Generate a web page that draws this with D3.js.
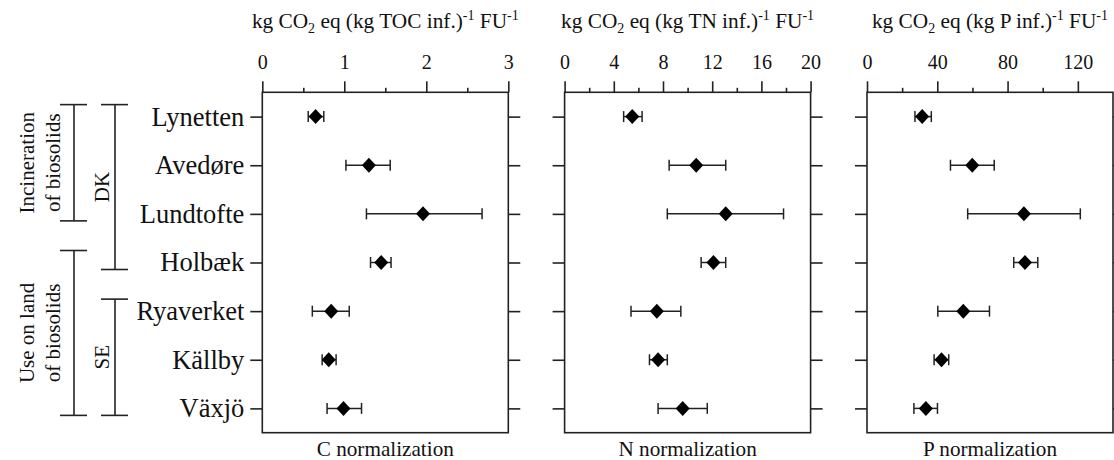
<!DOCTYPE html>
<html lang="en">
<head>
<meta charset="UTF-8">
<title>CO2 eq normalization</title>
<script src="https://d3js.org/d3.v7.min.js"></script>
<style>
  body { margin: 0; background: #fff; }
  svg text { font-family: "Times New Roman", "Liberation Serif", "DejaVu Serif", serif; fill: #111; }
</style>
</head>
<body>
<script>
// plants, top to bottom
var plants = ["Lynetten", "Avedøre", "Lundtofte", "Holbæk", "Ryaverket", "Källby", "Växjö"];

// C normalization: kg CO2 eq (kg TOC inf.)^-1 FU^-1
var cMean = [0.65, 1.30, 1.96, 1.45, 0.84, 0.81, 0.99];
var cLow  = [0.56, 1.02, 1.27, 1.32, 0.61, 0.73, 0.79];
var cHigh = [0.75, 1.56, 2.68, 1.57, 1.06, 0.90, 1.21];

// N normalization: kg CO2 eq (kg TN inf.)^-1 FU^-1
var nMean = [5.5, 10.7, 13.1, 12.1, 7.5, 7.6, 9.6];
var nLow  = [4.8, 8.5, 8.35, 11.1, 5.4, 6.9, 7.6];
var nHigh = [6.3, 13.1, 17.8, 13.1, 9.45, 8.35, 11.6];

// P normalization: kg CO2 eq (kg P inf.)^-1 FU^-1
var pMean = [31.4, 59.9, 89.3, 89.9, 54.8, 42.4, 33.5];
var pLow  = [27.3, 47.5, 57.3, 83.5, 40.3, 38.2, 26.7];
var pHigh = [36.6, 72.4, 121.4, 97.2, 69.7, 46.5, 40.1];

var cTicks = [0, 1, 2, 3], cMinor = [0.5, 1.5, 2.5];
var nTicks = [0, 4, 8, 12, 16, 20], nMinor = [2, 6, 10, 14, 18];
var pTicks = [0, 40, 80, 120], pMinor = [20, 60, 100];

var groups = [
    { lines: ["Incineration", "of biosolids"], from: "Lynetten", to: "Lundtofte", level: 0 },
    { lines: ["Use on land", "of biosolids"], from: "Holbæk", to: "Växjö", level: 0 },
    { lines: ["DK"], from: "Lynetten", to: "Holbæk", level: 1 },
    { lines: ["SE"], from: "Ryaverket", to: "Växjö", level: 1 }
];

var width = 1114, height = 460;
var plotTop = 92.3, plotH = 340.4, plotW = 246;
var panelX = [262.3, 564.6, 867];
var ink = "#222";
var serif = "'Times New Roman', 'Liberation Serif', serif";

var panels = [
    { unit: "TOC", label: "C normalization", max: 3, ticks: cTicks, minor: cMinor, mean: cMean, low: cLow, high: cHigh },
    { unit: "TN", label: "N normalization", max: 20, ticks: nTicks, minor: nMinor, mean: nMean, low: nLow, high: nHigh },
    { unit: "P", label: "P normalization", max: 140, ticks: pTicks, minor: pMinor, mean: pMean, low: pLow, high: pHigh }
];

var svg = d3.select("body").append("svg")
    .attr("width", width)
    .attr("height", height)
    .attr("font-family", serif);

var y = d3.scalePoint()
    .domain(plants)
    .range([plotTop, plotTop + plotH])
    .padding(0.5);

panels.forEach(function(p, i) {
    var x = d3.scaleLinear().domain([0, p.max]).range([panelX[i], panelX[i] + plotW]);
    var g = svg.append("g");

    // box
    g.append("rect")
        .attr("x", x.range()[0]).attr("y", plotTop)
        .attr("width", plotW).attr("height", plotH)
        .attr("fill", "none").attr("stroke", ink).attr("stroke-width", 1.6);

    // top axis, major + minor
    var ax = g.append("g").attr("transform", "translate(0," + plotTop + ")")
        .call(d3.axisTop(x).tickValues(p.ticks).tickSize(11).tickPadding(12).tickFormat(d3.format("d")));
    ax.attr("font-family", serif).attr("font-size", 20);
    ax.select(".domain").remove();
    ax.selectAll("line").attr("stroke", ink).attr("stroke-width", 1.6);

    var axm = g.append("g").attr("transform", "translate(0," + plotTop + ")")
        .call(d3.axisTop(x).tickValues(p.minor).tickSize(4.5).tickFormat(""));
    axm.select(".domain").remove();
    axm.selectAll("line").attr("stroke", ink).attr("stroke-width", 1.6);

    // left and right y ticks
    var ayl = g.append("g").attr("transform", "translate(" + x.range()[0] + ",0)")
        .call(d3.axisLeft(y).tickSize(12).tickPadding(6).tickFormat(i === 0 ? null : ""));
    ayl.attr("font-family", serif).attr("font-size", 26.5);
    ayl.select(".domain").remove();
    ayl.selectAll("line").attr("stroke", ink).attr("stroke-width", 1.6);

    var ayr = g.append("g").attr("transform", "translate(" + x.range()[1] + ",0)")
        .call(d3.axisRight(y).tickSize(12).tickFormat(""));
    ayr.select(".domain").remove();
    ayr.selectAll("line").attr("stroke", ink).attr("stroke-width", 1.6);

    // title above
    var t = g.append("text")
        .attr("x", x.range()[0] + plotW / 2)
        .attr("y", 28)
        .attr("text-anchor", "middle")
        .attr("font-size", 21.3);
    t.append("tspan").text("kg CO");
    t.append("tspan").attr("font-size", 14).attr("dy", 5).text("2");
    t.append("tspan").attr("dy", -5).text(" eq (kg " + p.unit + " inf.)");
    t.append("tspan").attr("font-size", 14).attr("dy", -8).text("-1");
    t.append("tspan").attr("dy", 8).text(" FU");
    t.append("tspan").attr("font-size", 14).attr("dy", -8).text("-1");

    // label below
    g.append("text")
        .attr("x", x.range()[0] + plotW / 2)
        .attr("y", 456)
        .attr("text-anchor", "middle")
        .attr("font-size", 21.2)
        .text(p.label);

    // error bars
    var rows = plants.map(function(name, k) {
        return { name: name, mean: p.mean[k], low: p.low[k], high: p.high[k] };
    });

    var eb = g.selectAll(".eb").data(rows).enter().append("g")
        .attr("stroke", ink).attr("stroke-width", 1.5);
    eb.append("line")
        .attr("x1", function(d) { return x(d.low); })
        .attr("x2", function(d) { return x(d.high); })
        .attr("y1", function(d) { return y(d.name); })
        .attr("y2", function(d) { return y(d.name); });
    eb.append("line")
        .attr("x1", function(d) { return x(d.low); })
        .attr("x2", function(d) { return x(d.low); })
        .attr("y1", function(d) { return y(d.name) - 5.5; })
        .attr("y2", function(d) { return y(d.name) + 5.5; });
    eb.append("line")
        .attr("x1", function(d) { return x(d.high); })
        .attr("x2", function(d) { return x(d.high); })
        .attr("y1", function(d) { return y(d.name) - 5.5; })
        .attr("y2", function(d) { return y(d.name) + 5.5; });

    // diamonds
    g.selectAll(".pt").data(rows).enter().append("path")
        .attr("d", "M0,-7.5L7,0L0,7.5L-7,0Z")
        .attr("fill", "#000")
        .attr("transform", function(d) { return "translate(" + x(d.mean) + "," + y(d.name) + ")"; });
});

// grouping brackets on the left
var bracketX = [74, 115];
var textX = [[34, 60], [109]];
groups.forEach(function(gr) {
    var y0 = y(gr.from) - 12, y1 = y(gr.to) + 7;
    var bx = bracketX[gr.level];
    var b = svg.append("g").attr("stroke", ink).attr("stroke-width", 1.6);
    b.append("line").attr("x1", bx).attr("x2", bx).attr("y1", y0).attr("y2", y1);
    b.append("line").attr("x1", bx - 14).attr("x2", bx + 13).attr("y1", y0).attr("y2", y0);
    b.append("line").attr("x1", bx - 14).attr("x2", bx + 13).attr("y1", y1).attr("y2", y1);

    gr.lines.forEach(function(line, j) {
        var tx = textX[gr.level][j], ty = (y0 + y1) / 2;
        svg.append("text")
            .attr("transform", "translate(" + tx + "," + ty + ") rotate(-90)")
            .attr("text-anchor", "middle")
            .attr("font-size", 21)
            .text(line);
    });
});
</script>
</body>
</html>
